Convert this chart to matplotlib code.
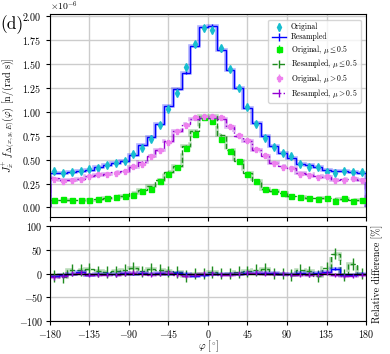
import numpy as np
import matplotlib
matplotlib.use("Agg")
import matplotlib.pyplot as plt

plt.rcParams['font.family'] = 'serif'
plt.rcParams['font.serif'] = ['cmr10', 'DejaVu Serif']
plt.rcParams['mathtext.fontset'] = 'cm'
plt.rcParams['axes.formatter.use_mathtext'] = True
plt.rcParams['axes.unicode_minus'] = True

# ---- data (bin centres in degrees, values in units of 1e-6 n/(rad s)) ----
phi_edges = np.arange(-180, 181, 10)
phi_centers = np.arange(-175, 176, 10)

orig_all = [0.385, 0.365, 0.37, 0.38, 0.40, 0.415, 0.445, 0.47, 0.49, 0.56, 0.62, 0.715,
            0.86, 1.03, 1.20, 1.465, 1.71, 1.875, 1.86, 1.665, 1.445, 1.246, 1.053, 0.875,
            0.73, 0.63, 0.566, 0.54, 0.453, 0.425, 0.419, 0.375, 0.358, 0.384, 0.375, 0.37]
resa_all = [0.365, 0.365, 0.37, 0.38, 0.395, 0.42, 0.44, 0.47, 0.49, 0.55, 0.65, 0.74,
            0.87, 1.06, 1.24, 1.41, 1.69, 1.89, 1.90, 1.647, 1.435, 1.252, 1.043, 0.88,
            0.747, 0.642, 0.572, 0.513, 0.46, 0.443, 0.419, 0.39, 0.383, 0.38, 0.366, 0.356]
orig_lo = [0.083, 0.087, 0.083, 0.076, 0.076, 0.09, 0.10, 0.11, 0.125, 0.135, 0.17, 0.195,
           0.275, 0.345, 0.425, 0.62, 0.77, 0.95, 0.91, 0.72, 0.593, 0.484, 0.35, 0.275,
           0.188, 0.17, 0.146, 0.118, 0.108, 0.10, 0.087, 0.094, 0.068, 0.094, 0.066, 0.076]
resa_lo = [0.08, 0.083, 0.083, 0.076, 0.083, 0.09, 0.097, 0.11, 0.125, 0.146, 0.18, 0.22,
           0.29, 0.37, 0.43, 0.64, 0.80, 0.955, 0.955, 0.757, 0.60, 0.484, 0.362, 0.275,
           0.19, 0.17, 0.146, 0.122, 0.11, 0.104, 0.10, 0.094, 0.09, 0.09, 0.083, 0.083]
orig_hi = [0.30, 0.28, 0.285, 0.30, 0.325, 0.345, 0.355, 0.36, 0.38, 0.43, 0.46, 0.535,
           0.60, 0.69, 0.80, 0.86, 0.95, 0.955, 0.955, 0.95, 0.85, 0.757, 0.71, 0.61,
           0.548, 0.467, 0.425, 0.418, 0.35, 0.338, 0.32, 0.328, 0.286, 0.286, 0.313, 0.286]
resa_hi = [0.31, 0.285, 0.285, 0.30, 0.325, 0.34, 0.355, 0.37, 0.38, 0.42, 0.475, 0.54,
           0.60, 0.70, 0.80, 0.87, 0.93, 0.94, 0.94, 0.93, 0.84, 0.75, 0.70, 0.60,
           0.54, 0.47, 0.43, 0.41, 0.36, 0.345, 0.33, 0.32, 0.29, 0.295, 0.30, 0.285]

err_orig = 0.02
err_resa = 0.015

# relative differences [%]
rd_all = [-5, -3, 0, 3, -2, 0, 0, -1, 1, 0, 2, 0, 1, 0, 2, 0, -4, -3,
          0, -1, 0, 0, 1, 2, 2, 1, 0, -1, 2, 0, 2, 3, 10, -3, -3, 0]
rd_lo = [-5, -8, 8, 8, 10, 5, 3, 5, 8, 12, 5, 10, 8, 5, 3, -5, 0, 0,
         3, 0, 0, 3, 5, 8, 10, 0, 0, -3, 8, 5, -5, 12, 42, -3, 20, 0]
rd_hi = [-8, -5, 0, 2, -3, -3, -3, -3, 0, 2, 0, -2, 0, 2, -3, -5, -3, 0,
         0, -2, -2, 0, 2, 2, 0, 0, 0, -3, -2, -2, -3, 2, -3, -5, -5, -3]
rd_err_all = 3
rd_err_lo = 12
rd_err_hi = 5

xticks = [-180, -135, -90, -45, 0, 45, 90, 135, 180]

c_orig_all, c_resa_all = '#17becf', '#0000ff'
c_orig_lo, c_resa_lo = '#00ee00', '#1e8c1e'
c_orig_hi, c_resa_hi = '#ee82ee', '#9400d3'

fig = plt.figure(figsize=(3.9, 3.54), dpi=100)
ax1 = fig.add_axes([0.128, 0.387, 0.8105, 0.5735])
ax2 = fig.add_axes([0.128, 0.0924, 0.8105, 0.2692], sharex=ax1)


def draw_resampled(ax, vals, err, color, ls):
    v = np.asarray(vals)
    ax.stairs(v, phi_edges, color=color, lw=2.6, alpha=0.3, ls=ls)
    ax.stairs(v, phi_edges, color=color, lw=1.0, ls=ls)
    ax.errorbar(phi_centers, v, yerr=err, fmt='none', ecolor=color, elinewidth=1.0)


def draw_original(ax, vals, err, color, marker):
    v = np.asarray(vals)
    return ax.errorbar(phi_centers, v, yerr=err, fmt=marker, color=color,
                       ms=3.6, elinewidth=1.0)


def leg_res(ax, color, ls):
    return ax.errorbar([np.nan], [np.nan], yerr=[np.nan], fmt='', color=color, ls=ls, lw=1.0)


h1 = draw_original(ax1, orig_all, err_orig, c_orig_all, 'd')
draw_resampled(ax1, resa_all, err_resa, c_resa_all, '-')
h3 = draw_original(ax1, orig_lo, err_orig * 0.6, c_orig_lo, 's')
draw_resampled(ax1, resa_lo, err_resa * 0.6, c_resa_lo, '--')
h5 = draw_original(ax1, orig_hi, err_orig * 0.7, c_orig_hi, 'P')
draw_resampled(ax1, resa_hi, err_resa * 0.7, c_resa_hi, '-.')

handles = [h1, leg_res(ax1, c_resa_all, '-'), h3, leg_res(ax1, c_resa_lo, '--'),
           h5, leg_res(ax1, c_resa_hi, '-.')]
labels = ['Original', 'Resampled', r'Original, $\mu \leq 0.5$', r'Resampled, $\mu \leq 0.5$',
          r'Original, $\mu > 0.5$', r'Resampled, $\mu > 0.5$']
ax1.legend(handles, labels, loc='upper right', fontsize=5.6, handlelength=1.8,
           borderpad=0.4, labelspacing=0.2, handletextpad=0.7, framealpha=0.8,
           bbox_to_anchor=(0.995, 0.99))

ax1.set_xlim(-180, 180)
ax1.set_ylim(-0.1, 2.025)
ax1.set_yticks(np.arange(0, 2.01, 0.25))
ax1.grid(True, color='#cccccc', lw=1.0)
ax1.set_axisbelow(True)
ax1.tick_params(labelbottom=False, labelsize=7.2, direction='out', length=3)
ax1.text(0.0, 1.004, r'$\times10^{-6}$', transform=ax1.transAxes, fontsize=7,
         va='bottom', ha='left')
ax1.set_ylabel(r'$J_{\dot{x}}^{+}\ f_{\Delta(x,y,E)}(\varphi)$ [n/(rad s)]', fontsize=7.2, labelpad=3)

# lower panel
draw_resampled(ax2, rd_lo, rd_err_lo, c_resa_lo, '--')
draw_resampled(ax2, rd_all, rd_err_all, c_resa_all, '-')
draw_resampled(ax2, rd_hi, rd_err_hi, c_resa_hi, '-.')
ax2.axhline(0, color='black', lw=1.0, zorder=1.5)
ax2.set_ylim(-100, 100)
ax2.set_yticks([-100, -50, 0, 50, 100])
ax2.set_xticks(xticks)
ax2.grid(True, color='#cccccc', lw=1.0)
ax2.set_axisbelow(True)
ax2.tick_params(labelsize=7.2, direction='out', length=3, pad=2)
ax2.set_xlabel(r'$\varphi$ [$^{\circ}$]', fontsize=7.2, labelpad=-1)
ax2.yaxis.set_label_position('right')
ax2.set_ylabel('Relative difference [%]', fontsize=7.2, labelpad=4)
ax2.set_xlim(-180, 180)

fig.text(0.0, 0.958, '(d)', fontsize=12.5, va='top', ha='left')

fig.savefig('out.png', dpi=100)
